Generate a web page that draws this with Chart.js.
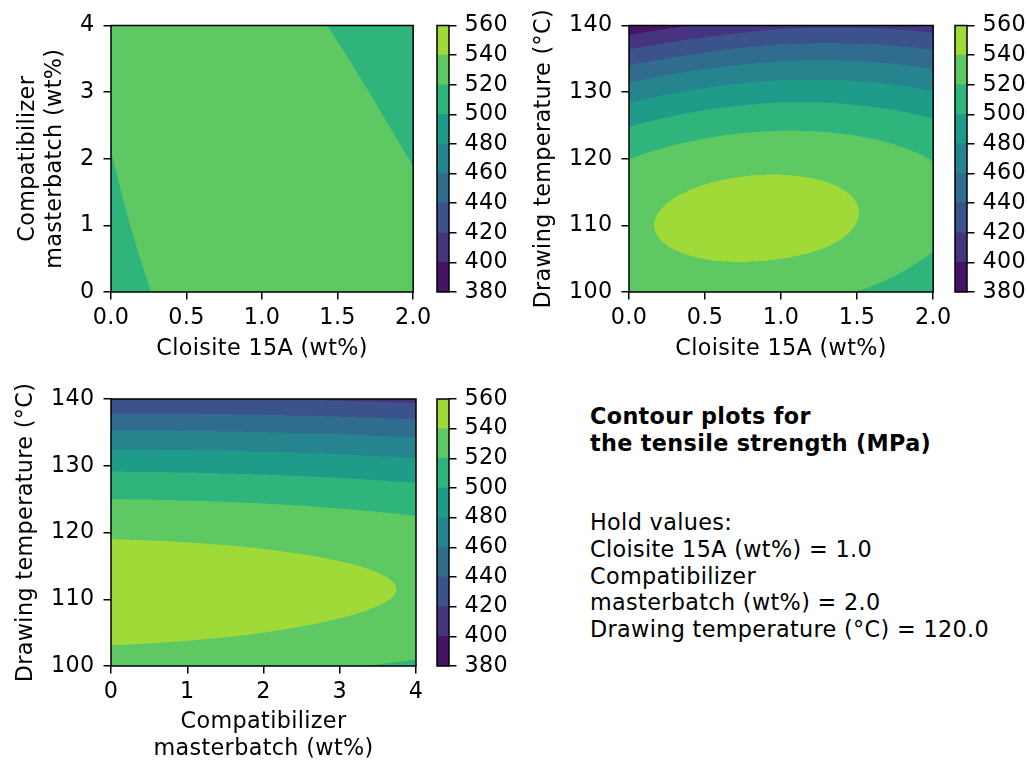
<!DOCTYPE html>
<html>
<head>
<meta charset="utf-8">
<script src="https://cdn.jsdelivr.net/npm/chart.js@4.4.1/dist/chart.umd.min.js"></script>
<style>
  html, body { margin: 0; padding: 0; background: #fff; }
  #page { position: relative; width: 1027px; height: 763px; overflow: hidden; font-family: "DejaVu Sans", sans-serif; }
  canvas { position: absolute; }
  .note { position: absolute; left: 590px; font-size: 22.3px; line-height: 26.76px; letter-spacing: 0.35px; color: #000; white-space: pre; }
</style>
</head>
<body>
<div id="page">
  <canvas id="p1" width="436" height="372" style="left:0;top:0"></canvas>
  <canvas id="cb1" width="90" height="372" style="left:436px;top:0"></canvas>
  <canvas id="p2" width="436" height="372" style="left:520px;top:0"></canvas>
  <canvas id="cb2" width="73" height="372" style="left:954px;top:0"></canvas>
  <canvas id="p3" width="436" height="391" style="left:0;top:372px"></canvas>
  <canvas id="cb3" width="90" height="391" style="left:436px;top:372px"></canvas>
  <div class="note" id="title" style="top:403px;font-weight:bold"></div>
  <div class="note" id="hold" style="top:509px"></div>
</div>
<script>
// contour levels and the viridis colour of each band
const levels = [380, 400, 420, 440, 460, 480, 500, 520, 540, 560];
const bandColors = ['#471365', '#463480', '#3b528b', '#2f6c8e', '#25848e', '#1e9c89', '#2fb47c', '#5ec962', '#a0da39'];

// grid positions (at the axis ticks)
const cloisite = [0, 0.5, 1, 1.5, 2];
const compat = [0, 1, 2, 3, 4];
const temperature = [100, 110, 120, 130, 140];

// tensile strength (MPa): one row per y value, one column per x value
const tsCloisiteCompat = [
    [510.5, 527.0, 537.4, 538.8, 532.7],
    [515.8, 529.6, 536.3, 535.1, 526.4],
    [519.6, 530.7, 534.3, 530.4, 519.1],
    [522.0, 530.4, 531.3, 524.9, 510.9],
    [523.3, 529.1, 527.4, 518.3, 501.8]
];
const tsCloisiteTemp = [
    [521.3, 527.4, 526.1, 519.6, 501.1],
    [536.3, 544.9, 546.0, 539.7, 525.9],
    [519.7, 530.7, 534.3, 530.4, 519.1],
    [469.5, 484.0, 491.0, 489.6, 480.7],
    [386.0, 403.0, 415.0, 417.1, 410.7]
];
const tsCompatTemp = [
    [530.7, 528.9, 526.1, 521.6, 516.5],
    [549.8, 548.4, 546.0, 542.7, 538.4],
    [537.4, 536.3, 534.3, 531.3, 527.4],
    [495.0, 494.3, 492.7, 490.1, 486.6],
    [421.6, 421.3, 420.0, 417.8, 414.6]
];

const titleLines = ['Contour plots for', 'the tensile strength (MPa)'];
const holdLines = ['Hold values:', 'Cloisite 15A (wt%) = 1.0', 'Compatibilizer', 'masterbatch (wt%) = 2.0', 'Drawing temperature (°C) = 120.0'];

document.getElementById('title').textContent = titleLines.join('\n');
document.getElementById('hold').textContent = holdLines.join('\n');

Chart.defaults.font.family = '"DejaVu Sans", sans-serif';
Chart.defaults.font.size = 22.3;
Chart.defaults.font.lineHeight = 1.2;
Chart.defaults.color = '#000';

// the reference text runs a little wide, so space the letters slightly
Chart.register({
    id: 'spacing',
    beforeDraw(chart) {
        chart.ctx.letterSpacing = '0.35px';
    }
});

const rgb = bandColors.map(h => [1, 3, 5].map(k => parseInt(h.slice(k, k + 2), 16)));

function band(v) {
    for (let i = levels.length - 2; i >= 0; i--) {
        if (v >= levels[i]) return i;
    }
    return 0;
}

// pad the grid with one extra cell on every side (quadratic extrapolation)
function extendGrid(z) {
    const ext = r => {
        const n = r.length;
        return [3 * r[0] - 3 * r[1] + r[2], ...r, 3 * r[n - 1] - 3 * r[n - 2] + r[n - 3]];
    };
    const rows = z.map(ext);
    const m = rows.length;
    const first = rows[0].map((_, i) => 3 * rows[0][i] - 3 * rows[1][i] + rows[2][i]);
    const last = rows[0].map((_, i) => 3 * rows[m - 1][i] - 3 * rows[m - 2][i] + rows[m - 3][i]);
    return [first, ...rows, last];
}

function cr(p0, p1, p2, p3, u) {
    return 0.5 * (2 * p1 + (p2 - p0) * u + (2 * p0 - 5 * p1 + 4 * p2 - p3) * u * u + (3 * p1 - p0 - 3 * p2 + p3) * u * u * u);
}

function sample(f, xs, ys, xv, yv) {
    const n = xs.length, m = ys.length;
    let fx = (xv - xs[0]) / (xs[1] - xs[0]);
    let fy = (yv - ys[0]) / (ys[1] - ys[0]);
    fx = Math.max(0, Math.min(n - 1, fx));
    fy = Math.max(0, Math.min(m - 1, fy));
    const i = Math.min(Math.floor(fx), n - 2), j = Math.min(Math.floor(fy), m - 2);
    const u = fx - i, t = fy - j;
    const c = [0, 0, 0, 0];
    for (let q = 0; q < 4; q++) {
        const r = f[j + q];
        c[q] = cr(r[i], r[i + 1], r[i + 2], r[i + 3], u);
    }
    return cr(c[0], c[1], c[2], c[3], t);
}

// fills the plot area band by band, going through the chart's own scales
function contourLayer(xs, ys, z) {
    const field = extendGrid(z);
    return {
        id: 'contourLayer',
        beforeDatasetsDraw(chart) {
            const { ctx, chartArea: a, scales } = chart;
            const x0 = Math.floor(a.left), y0 = Math.floor(a.top);
            const w = Math.ceil(a.right) - x0, h = Math.ceil(a.bottom) - y0;
            const off = document.createElement('canvas');
            off.width = w;
            off.height = h;
            const octx = off.getContext('2d');
            const img = octx.createImageData(w, h);
            const subs = [0.25, 0.75];
            const colX = [], rowY = [];
            for (let i = 0; i < w; i++) subs.forEach(s => colX.push(scales.x.getValueForPixel(x0 + i + s)));
            for (let j = 0; j < h; j++) subs.forEach(s => rowY.push(scales.y.getValueForPixel(y0 + j + s)));
            for (let j = 0; j < h; j++) {
                for (let i = 0; i < w; i++) {
                    let r = 0, g = 0, b = 0;
                    for (let sj = 0; sj < 2; sj++) {
                        for (let si = 0; si < 2; si++) {
                            const c = rgb[band(sample(field, xs, ys, colX[2 * i + si], rowY[2 * j + sj]))];
                            r += c[0]; g += c[1]; b += c[2];
                        }
                    }
                    const k = (j * w + i) * 4;
                    img.data[k] = r / 4;
                    img.data[k + 1] = g / 4;
                    img.data[k + 2] = b / 4;
                    img.data[k + 3] = 255;
                }
            }
            octx.putImageData(img, 0, 0);
            ctx.save();
            ctx.beginPath();
            ctx.rect(a.left, a.top, a.right - a.left, a.bottom - a.top);
            ctx.clip();
            ctx.drawImage(off, x0, y0);
            ctx.restore();
        }
    };
}

const frame = {
    id: 'frame',
    afterDraw(chart) {
        const { ctx, chartArea: a } = chart;
        ctx.save();
        ctx.strokeStyle = '#000';
        ctx.lineWidth = 1.5;
        ctx.strokeRect(a.left, a.top, a.right - a.left, a.bottom - a.top);
        ctx.restore();
    }
};

const tickGrid = { drawOnChartArea: false, drawTicks: true, tickLength: 7.5, color: '#000', lineWidth: 1.5 };

function contourChart(id, o) {
    return new Chart(document.getElementById(id), {
        type: 'scatter',
        data: { datasets: [{ data: [] }] },
        options: {
            responsive: false,
            animation: false,
            events: [],
            layout: { padding: { left: 0, right: 20, top: o.top, bottom: 0 } },
            plugins: { legend: { display: false }, tooltip: { enabled: false } },
            scales: {
                x: {
                    type: 'linear', min: o.xs[0], max: o.xs[o.xs.length - 1],
                    afterFit: s => { s.height = o.xHeight; },
                    ticks: { stepSize: o.xs[1] - o.xs[0], autoSkip: false, maxRotation: 0, padding: 5.1, callback: o.xFmt },
                    grid: tickGrid,
                    border: { display: false },
                    title: { display: true, text: o.xTitle, padding: { top: 0, bottom: o.xTitlePad } }
                },
                y: {
                    type: 'linear', min: o.ys[0], max: o.ys[o.ys.length - 1],
                    afterFit: s => { s.width = o.yWidth; },
                    ticks: { stepSize: o.ys[1] - o.ys[0], autoSkip: false, padding: 9 },
                    grid: tickGrid,
                    border: { display: false },
                    title: { display: true, text: o.yTitle, padding: { top: o.yTitlePad, bottom: 0 } }
                }
            }
        },
        plugins: [contourLayer(o.xs, o.ys, o.z), frame]
    });
}

function colorbar(id, o) {
    return new Chart(document.getElementById(id), {
        type: 'bar',
        data: {
            labels: [''],
            datasets: bandColors.map((c, i) => ({
                data: [[levels[i], levels[i + 1]]],
                backgroundColor: c,
                borderWidth: 0,
                barPercentage: 1,
                categoryPercentage: 1,
                grouped: false
            }))
        },
        options: {
            responsive: false,
            animation: false,
            events: [],
            layout: { padding: { left: 1, right: 0, top: o.top, bottom: o.bottom } },
            plugins: { legend: { display: false }, tooltip: { enabled: false } },
            scales: {
                x: { display: false },
                y: {
                    position: 'right', min: levels[0], max: levels[levels.length - 1],
                    afterFit: s => { s.width = o.width; },
                    ticks: { stepSize: levels[1] - levels[0], autoSkip: false, padding: 8 },
                    grid: tickGrid,
                    border: { display: false }
                }
            }
        },
        plugins: [frame]
    });
}

const oneDecimal = v => v.toFixed(1);
const whole = v => String(v);

contourChart('p1', {
    xs: cloisite, ys: compat, z: tsCloisiteCompat, top: 25.5, xHeight: 80, yWidth: 111,
    xFmt: oneDecimal, xTitle: 'Cloisite 15A (wt%)', xTitlePad: 9.6,
    yTitle: ['Compatibilizer', 'masterbatch (wt%)'], yTitlePad: 15.1
});
contourChart('p2', {
    xs: cloisite, ys: temperature, z: tsCloisiteTemp, top: 25.5, xHeight: 80, yWidth: 109,
    xFmt: oneDecimal, xTitle: 'Cloisite 15A (wt%)', xTitlePad: 9.6,
    yTitle: 'Drawing temperature (°C)', yTitlePad: 10.6
});
contourChart('p3', {
    xs: compat, ys: temperature, z: tsCompatTemp, top: 27, xHeight: 97, yWidth: 111,
    xFmt: whole, xTitle: ['Compatibilizer', 'masterbatch (wt%)'], xTitlePad: 0.9,
    yTitle: 'Drawing temperature (°C)', yTitlePad: 12.6
});

colorbar('cb1', { top: 25.5, bottom: 80, width: 77 });
colorbar('cb2', { top: 25.5, bottom: 80, width: 60 });
colorbar('cb3', { top: 27, bottom: 97, width: 77 });
</script>
</body>
</html>
